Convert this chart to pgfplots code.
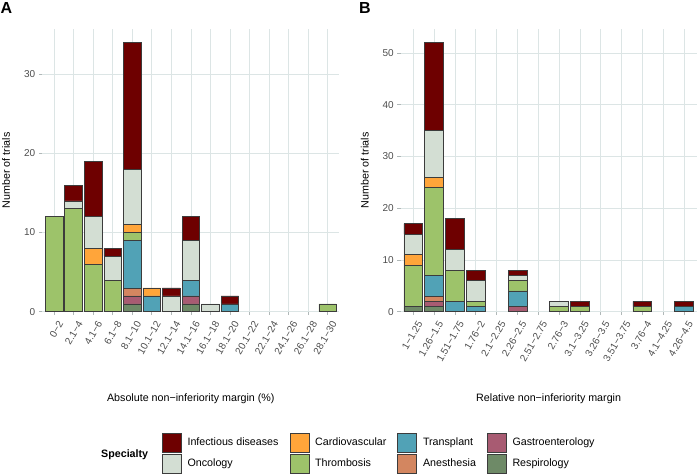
\documentclass[border=0pt]{standalone}
\usepackage{fontspec}
\setmainfont{Liberation Sans}
\usepackage{pgfplots}
\usepackage{pgfplotstable}
\pgfplotsset{compat=1.18}

\definecolor{cID}{HTML}{6E0000}
\definecolor{cOnc}{HTML}{D3DED3}
\definecolor{cCardio}{HTML}{FFA53A}
\definecolor{cThromb}{HTML}{9DC36A}
\definecolor{cTrans}{HTML}{51A2B6}
\definecolor{cAnes}{HTML}{D38660}
\definecolor{cGastro}{HTML}{A85B72}
\definecolor{cResp}{HTML}{6E8A67}
\definecolor{edgec}{HTML}{3C3C3C}
\definecolor{gridc}{HTML}{DCE5E5}
\definecolor{tickc}{HTML}{B0B8B8}
\definecolor{ticktext}{HTML}{4D4D4D}

% Panel A: absolute margin, categories 0..14 (empty ones omitted)
\pgfplotstableread{
x  Resp Gastro Anes Trans Thromb Cardio Onc ID
0  0    0      0    0     12     0      0   0
1  0    0      0    0     13     0      1   2
2  0    0      0    0     6      2      4   7
3  0    0      0    0     4      0      3   1
4  1    1      1    6     1      1      7   16
5  0    0      0    2     0      1      0   0
6  0    0      0    0     0      0      2   1
7  1    1      0    2     0      0      5   3
8  0    0      0    0     0      0      1   0
9  0    0      0    1     0      0      0   1
14 0    0      0    0     1      0      0   0
}\tabA

% Panel B: relative margin, categories 0..13 (empty ones omitted)
\pgfplotstableread{
x  Resp Gastro Anes Trans Thromb Cardio Onc ID
0  1    0      0    0     8      2      4   2
1  1    1      1    4     17     2      9   17
2  0    0      0    2     6      0      4   6
3  0    0      0    1     1      0      4   2
5  0    1      0    3     2      0      1   1
7  0    0      0    0     1      0      1   0
8  0    0      0    0     1      0      0   1
11 0    0      0    0     1      0      0   1
13 0    0      0    1     0      0      0   1
}\tabB

\pgfplotsset{
  seg/.style={fill=#1, draw=edgec, line width=0.55bp},
  panel/.style={
    scale only axis, height=282.7bp,
    ybar stacked, bar width=0.9, enlargelimits=false, ymin=0,
    axis x line*=bottom, axis y line*=left, axis line style={draw=none},
    tick align=outside, major tick length=3.5bp,
    tick style={color=tickc, line width=0.6bp},
    grid=major, major grid style={color=gridc, line width=0.6bp},
    xticklabel style={rotate=60, anchor=east, yshift=-9bp, xshift=1bp, text=ticktext,
      font=\fontsize{10bp}{12bp}\selectfont},
    yticklabel style={text=ticktext, font=\fontsize{10bp}{12bp}\selectfont},
    /pgf/number format/assume math mode=true,
    every axis x label/.style={at={(axis description cs:0.5,0)}, yshift=-90bp,
      anchor=base, inner sep=0pt, font=\fontsize{10.7bp}{12bp}\selectfont},
    every axis y label/.style={at={(axis description cs:0,0.5)}, xshift=-32bp,
      rotate=90, anchor=south, inner sep=0pt, font=\fontsize{10.7bp}{12bp}\selectfont},
  },
}

\begin{document}
\begin{tikzpicture}
\useasboundingbox (0,0) rectangle (697bp,-474bp);

\node[anchor=base west, inner sep=0pt, font=\bfseries\fontsize{16bp}{18bp}\selectfont] at (0.5bp,-13.5bp) {A};
\node[anchor=base west, inner sep=0pt, font=\bfseries\fontsize{16bp}{18bp}\selectfont] at (359bp,-13.5bp) {B};

\begin{axis}[panel, width=297bp, at={(42.3bp,-311.7bp)}, anchor=south west,
  xmin=-0.6, xmax=14.6, ymax=35.7,
  xtick={0,...,14},
  xticklabels={0−2,2.1−4,4.1−6,6.1−8,8.1−10,10.1−12,12.1−14,14.1−16,16.1−18,18.1−20,20.1−22,22.1−24,24.1−26,26.1−28,28.1−30},
  ytick={0,10,20,30},
  xlabel={Absolute non−inferiority margin (\%)},
  ylabel={Number of trials}]
\addplot[seg=cResp]    table[x=x,y=Resp]{\tabA};
\addplot[seg=cGastro]  table[x=x,y=Gastro]{\tabA};
\addplot[seg=cAnes]    table[x=x,y=Anes]{\tabA};
\addplot[seg=cTrans]   table[x=x,y=Trans]{\tabA};
\addplot[seg=cThromb]  table[x=x,y=Thromb]{\tabA};
\addplot[seg=cCardio]  table[x=x,y=Cardio]{\tabA};
\addplot[seg=cOnc]     table[x=x,y=Onc]{\tabA};
\addplot[seg=cID]      table[x=x,y=ID]{\tabA};
\end{axis}

\begin{axis}[panel, width=295.7bp, at={(400.8bp,-311.7bp)}, anchor=south west,
  xmin=-0.6, xmax=13.6, ymax=54.6,
  xtick={0,...,13},
  xticklabels={1−1.25,1.26−1.5,1.51−1.75,1.76−2,2.1−2.25,2.26−2.5,2.51−2.75,2.76−3,3.1−3.25,3.26−3.5,3.51−3.75,3.76−4,4.1−4.25,4.26−4.5},
  ytick={0,10,20,30,40,50},
  xlabel={Relative non−inferiority margin},
  ylabel={Number of trials}]
\addplot[seg=cResp]    table[x=x,y=Resp]{\tabB};
\addplot[seg=cGastro]  table[x=x,y=Gastro]{\tabB};
\addplot[seg=cAnes]    table[x=x,y=Anes]{\tabB};
\addplot[seg=cTrans]   table[x=x,y=Trans]{\tabB};
\addplot[seg=cThromb]  table[x=x,y=Thromb]{\tabB};
\addplot[seg=cCardio]  table[x=x,y=Cardio]{\tabB};
\addplot[seg=cOnc]     table[x=x,y=Onc]{\tabB};
\addplot[seg=cID]      table[x=x,y=ID]{\tabB};
\end{axis}

\node[anchor=base west, inner sep=0pt, font=\bfseries\fontsize{10.7bp}{12bp}\selectfont] at (101bp,-457bp) {Specialty};

\begin{axis}[hide axis, scale only axis, width=1bp, height=1bp,
  at={(162bp,-453bp)}, anchor=south west,
  xmin=0, xmax=1, ymin=0, ymax=1,
  legend columns=4, legend cell align=left,
  legend image code/.code={\draw[#1] (0bp,-9.5bp) rectangle (19bp,9.5bp);},
  legend style={at={(0,0)}, anchor=west, draw=none, fill=none,
    inner sep=0pt, outer sep=0pt, row sep=1bp,
    font=\fontsize{10.7bp}{12bp}\selectfont,
    nodes={inner sep=0pt},
    /tikz/every odd column/.style={column sep=6bp},
    /tikz/every even column/.style={column sep=11bp}}]
\addlegendimage{seg=cID}\addlegendentry{Infectious diseases}
\addlegendimage{seg=cCardio}\addlegendentry{Cardiovascular}
\addlegendimage{seg=cTrans}\addlegendentry{Transplant}
\addlegendimage{seg=cGastro}\addlegendentry{Gastroenterology}
\addlegendimage{seg=cOnc}\addlegendentry{Oncology}
\addlegendimage{seg=cThromb}\addlegendentry{Thrombosis}
\addlegendimage{seg=cAnes}\addlegendentry{Anesthesia}
\addlegendimage{seg=cResp}\addlegendentry{Respirology}
\end{axis}
\end{tikzpicture}
\end{document}
